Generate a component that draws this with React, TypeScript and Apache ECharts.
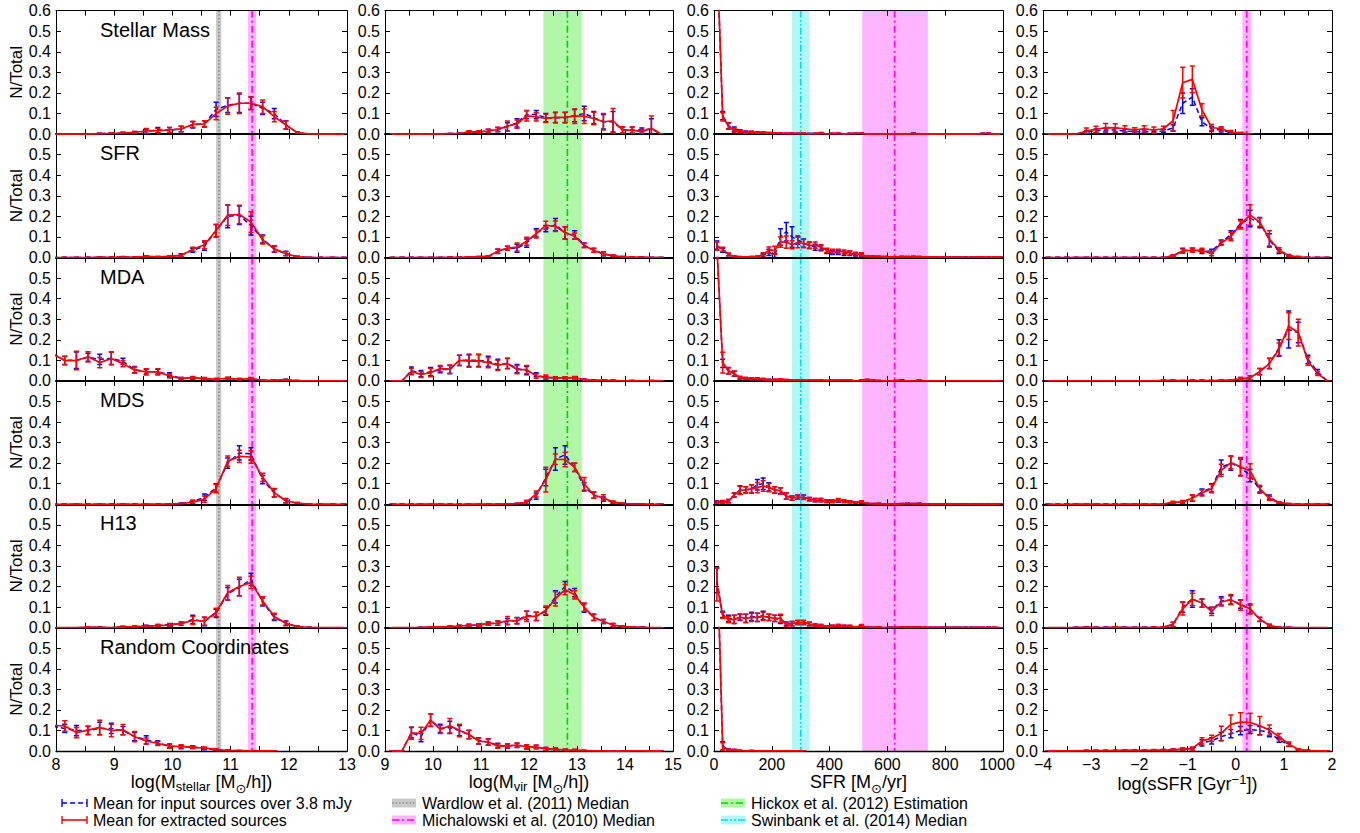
import { useEffect, useRef } from "react";
import * as echarts from "echarts";

const FONT = '"Liberation Sans", Arial, Helvetica, sans-serif';

// ---------- bin centres ----------
const massX = [7.95, 8.15, 8.35, 8.55, 8.75, 8.95, 9.15, 9.35, 9.55, 9.75, 9.95, 10.15, 10.35, 10.55, 10.75, 10.95, 11.15, 11.35, 11.55, 11.75, 11.95, 12.15, 12.35, 12.55, 12.75, 12.95];
const mvirX = [9.15, 9.35, 9.55, 9.75, 9.95, 10.15, 10.35, 10.55, 10.75, 10.95, 11.15, 11.35, 11.55, 11.75, 11.95, 12.15, 12.35, 12.55, 12.75, 12.95, 13.15, 13.35, 13.55, 13.75, 13.95, 14.15, 14.35, 14.55, 14.75];
const sfrX = [10, 30, 50, 70, 90, 110, 130, 150, 170, 190, 210, 230, 250, 270, 290, 310, 330, 350, 370, 390, 410, 430, 450, 470, 490, 510, 530, 550, 570, 590, 610, 630, 650, 670, 690, 710, 730, 750, 770, 790, 810, 830, 850, 870, 890, 910, 930, 950, 970, 990];
const ssfrX = [-3.9, -3.7, -3.5, -3.3, -3.1, -2.9, -2.7, -2.5, -2.3, -2.1, -1.9, -1.7, -1.5, -1.3, -1.1, -0.9, -0.7, -0.5, -0.3, -0.1, 0.1, 0.3, 0.5, 0.7, 0.9, 1.1, 1.3, 1.5, 1.7, 1.9];

const rowLabels = ["Stellar Mass", "SFR", "MDA", "MDS", "H13", "Random Coordinates"];

// ---------- column 1 : stellar mass ----------
const massSM_r = [0, 0, 0, 0, 0.002, 0.003, 0.005, 0.008, 0.015, 0.017, 0.02, 0.025, 0.048, 0.05, 0.1, 0.136, 0.15, 0.15, 0.133, 0.085, 0.044, 0.006, 0.001, 0, 0, 0];
const massSM_re = [0, 0, 0, 0, 0.002, 0.003, 0.004, 0.005, 0.012, 0.01, 0.012, 0.013, 0.015, 0.015, 0.03, 0.04, 0.05, 0.03, 0.033, 0.025, 0.02, 0.004, 0.001, 0, 0, 0];
const massSM_b = [0, 0, 0, 0, 0.002, 0.003, 0.005, 0.008, 0.014, 0.02, 0.02, 0.025, 0.045, 0.05, 0.12, 0.14, 0.15, 0.15, 0.125, 0.1, 0.045, 0.006, 0.001, 0, 0, 0];
const massSM_be = [0, 0, 0, 0, 0.002, 0.003, 0.004, 0.005, 0.01, 0.012, 0.012, 0.013, 0.015, 0.015, 0.035, 0.035, 0.045, 0.03, 0.03, 0.025, 0.02, 0.004, 0.001, 0, 0, 0];

const massSFR_r = [0, 0, 0, 0, 0.001, 0.001, 0.002, 0.001, 0.005, 0.003, 0.005, 0.01, 0.04, 0.062, 0.131, 0.206, 0.209, 0.172, 0.086, 0.042, 0.018, 0.003, 0, 0, 0, 0];
const massSFR_re = [0, 0, 0, 0, 0.001, 0.001, 0.002, 0.001, 0.003, 0.002, 0.003, 0.006, 0.01, 0.02, 0.03, 0.05, 0.045, 0.05, 0.02, 0.015, 0.01, 0.003, 0, 0, 0, 0];
const massSFR_b = [0, 0, 0, 0, 0.001, 0.001, 0.003, 0.001, 0.004, 0.003, 0.005, 0.012, 0.035, 0.055, 0.13, 0.2, 0.205, 0.155, 0.09, 0.04, 0.02, 0.003, 0, 0, 0, 0];
const massSFR_be = [0, 0, 0, 0, 0.001, 0.001, 0.002, 0.001, 0.003, 0.002, 0.003, 0.006, 0.01, 0.02, 0.03, 0.055, 0.045, 0.045, 0.02, 0.015, 0.01, 0.003, 0, 0, 0, 0];

const massMDA_r = [0.13, 0.099, 0.099, 0.117, 0.089, 0.109, 0.084, 0.052, 0.044, 0.044, 0.024, 0.011, 0.016, 0.011, 0.008, 0.013, 0.008, 0.011, 0.003, 0.003, 0.005, 0.001, 0, 0, 0, 0];
const massMDA_re = [0.02, 0.02, 0.045, 0.025, 0.025, 0.03, 0.015, 0.015, 0.015, 0.015, 0.01, 0.005, 0.006, 0.005, 0.004, 0.005, 0.004, 0.005, 0.002, 0.002, 0.003, 0.001, 0, 0, 0, 0];
const massMDA_b = [0.13, 0.1, 0.1, 0.115, 0.105, 0.11, 0.095, 0.055, 0.045, 0.045, 0.03, 0.012, 0.014, 0.01, 0.008, 0.012, 0.008, 0.01, 0.003, 0.004, 0.005, 0.001, 0, 0, 0, 0];
const massMDA_be = [0.02, 0.02, 0.04, 0.02, 0.025, 0.03, 0.015, 0.015, 0.012, 0.012, 0.01, 0.005, 0.006, 0.005, 0.004, 0.005, 0.004, 0.005, 0.002, 0.002, 0.003, 0.001, 0, 0, 0, 0];

const massMDS_r = [0, 0, 0, 0, 0, 0, 0, 0, 0, 0, 0.002, 0.003, 0.01, 0.025, 0.076, 0.21, 0.233, 0.23, 0.131, 0.057, 0.016, 0.005, 0.001, 0, 0, 0];
const massMDS_re = [0, 0, 0, 0, 0, 0, 0, 0, 0, 0, 0.001, 0.002, 0.008, 0.015, 0.02, 0.025, 0.03, 0.03, 0.02, 0.02, 0.01, 0.004, 0.001, 0, 0, 0];
const massMDS_b = [0, 0, 0, 0, 0, 0, 0, 0, 0, 0, 0.002, 0.004, 0.012, 0.035, 0.08, 0.2, 0.25, 0.245, 0.12, 0.055, 0.018, 0.005, 0.001, 0, 0, 0];
const massMDS_be = [0, 0, 0, 0, 0, 0, 0, 0, 0, 0, 0.001, 0.002, 0.008, 0.015, 0.02, 0.025, 0.035, 0.03, 0.02, 0.02, 0.01, 0.004, 0.001, 0, 0, 0];

const massH13_r = [0, 0, 0, 0.003, 0.002, 0, 0.004, 0.005, 0.007, 0.01, 0.013, 0.02, 0.035, 0.032, 0.075, 0.17, 0.2, 0.22, 0.13, 0.055, 0.02, 0.005, 0.001, 0, 0, 0];
const massH13_re = [0, 0, 0, 0.002, 0.002, 0, 0.003, 0.003, 0.004, 0.005, 0.006, 0.008, 0.02, 0.02, 0.02, 0.035, 0.045, 0.03, 0.02, 0.015, 0.01, 0.004, 0.001, 0, 0, 0];
const massH13_b = [0, 0, 0, 0.003, 0.002, 0, 0.004, 0.005, 0.008, 0.01, 0.015, 0.02, 0.04, 0.03, 0.07, 0.165, 0.195, 0.235, 0.125, 0.05, 0.022, 0.005, 0.001, 0, 0, 0];
const massH13_be = [0, 0, 0, 0.002, 0.002, 0, 0.003, 0.003, 0.004, 0.005, 0.006, 0.008, 0.02, 0.02, 0.02, 0.03, 0.04, 0.03, 0.02, 0.015, 0.01, 0.004, 0.001, 0, 0, 0];

const massRND_r = [0.125, 0.122, 0.09, 0.102, 0.115, 0.1, 0.104, 0.07, 0.049, 0.037, 0.024, 0.023, 0.018, 0.015, 0.008, 0.003, 0.002, 0.001, 0.001, 0.001];
const massRND_re = [0.02, 0.025, 0.025, 0.02, 0.035, 0.03, 0.025, 0.025, 0.015, 0.01, 0.01, 0.008, 0.006, 0.005, 0.004, 0.002, 0.001, 0.001, 0.001, 0.001];
const massRND_b = [0.12, 0.11, 0.1, 0.1, 0.11, 0.11, 0.1, 0.07, 0.055, 0.04, 0.025, 0.02, 0.02, 0.012, 0.006, 0.003, 0.002, 0.001, 0.001, 0.001];
const massRND_be = [0.02, 0.02, 0.025, 0.02, 0.03, 0.025, 0.02, 0.02, 0.02, 0.01, 0.01, 0.008, 0.006, 0.005, 0.004, 0.002, 0.001, 0.001, 0.001, 0.001];

// ---------- column 2 : virial mass ----------
const mvirSM_r = [0, 0, 0, 0, 0, 0.001, 0.002, 0.003, 0.011, 0.011, 0.015, 0.023, 0.039, 0.049, 0.089, 0.084, 0.076, 0.081, 0.081, 0.087, 0.087, 0.076, 0.06, 0.065, 0.019, 0.019, 0.012, 0.028, 0];
const mvirSM_re = [0, 0, 0, 0, 0, 0.001, 0.001, 0.002, 0.005, 0.005, 0.008, 0.01, 0.025, 0.02, 0.025, 0.02, 0.02, 0.025, 0.025, 0.035, 0.035, 0.03, 0.04, 0.06, 0.015, 0.015, 0.01, 0.06, 0];
const mvirSM_b = [0, 0, 0, 0, 0, 0.001, 0.002, 0.003, 0.01, 0.01, 0.015, 0.022, 0.035, 0.055, 0.095, 0.095, 0.08, 0.08, 0.08, 0.09, 0.1, 0.08, 0.06, 0.06, 0.02, 0.02, 0.02, 0.025, 0];
const mvirSM_be = [0, 0, 0, 0, 0, 0.001, 0.001, 0.002, 0.005, 0.005, 0.008, 0.01, 0.02, 0.02, 0.02, 0.02, 0.02, 0.025, 0.025, 0.03, 0.035, 0.03, 0.035, 0.05, 0.015, 0.015, 0.01, 0.05, 0];

const mvirSFR_r = [0, 0, 0, 0, 0, 0, 0.001, 0.001, 0.002, 0.003, 0.005, 0.031, 0.045, 0.05, 0.079, 0.115, 0.156, 0.152, 0.12, 0.104, 0.058, 0.034, 0.018, 0.008, 0.003, 0.002, 0.001, 0, 0];
const mvirSFR_re = [0, 0, 0, 0, 0, 0, 0.001, 0.001, 0.001, 0.002, 0.003, 0.01, 0.01, 0.02, 0.02, 0.02, 0.02, 0.025, 0.03, 0.015, 0.01, 0.01, 0.01, 0.004, 0.002, 0.001, 0.001, 0, 0];
const mvirSFR_b = [0, 0, 0, 0, 0, 0, 0.001, 0.001, 0.002, 0.003, 0.005, 0.03, 0.045, 0.045, 0.07, 0.12, 0.14, 0.16, 0.12, 0.11, 0.06, 0.035, 0.018, 0.008, 0.003, 0.002, 0.001, 0, 0];
const mvirSFR_be = [0, 0, 0, 0, 0, 0, 0.001, 0.001, 0.001, 0.002, 0.003, 0.01, 0.01, 0.02, 0.02, 0.02, 0.015, 0.03, 0.03, 0.02, 0.01, 0.01, 0.01, 0.004, 0.002, 0.001, 0.001, 0, 0];

const mvirMDA_r = [0, 0, 0.045, 0.031, 0.04, 0.06, 0.057, 0.1, 0.096, 0.097, 0.089, 0.076, 0.084, 0.055, 0.055, 0.023, 0.019, 0.015, 0.015, 0.016, 0.005, 0.002, 0.003, 0.002, 0, 0.001, 0, 0.001, 0];
const mvirMDA_re = [0, 0, 0.015, 0.015, 0.02, 0.015, 0.02, 0.025, 0.03, 0.03, 0.025, 0.025, 0.025, 0.02, 0.02, 0.01, 0.01, 0.005, 0.005, 0.005, 0.003, 0.002, 0.002, 0.002, 0, 0.001, 0, 0.001, 0];
const mvirMDA_b = [0, 0, 0.05, 0.035, 0.045, 0.055, 0.055, 0.1, 0.1, 0.1, 0.095, 0.08, 0.085, 0.06, 0.05, 0.03, 0.015, 0.015, 0.015, 0.015, 0.006, 0.003, 0.004, 0.002, 0, 0.001, 0, 0.001, 0];
const mvirMDA_be = [0, 0, 0.018, 0.015, 0.02, 0.015, 0.02, 0.025, 0.03, 0.03, 0.025, 0.025, 0.025, 0.02, 0.02, 0.01, 0.008, 0.005, 0.005, 0.005, 0.003, 0.002, 0.002, 0.002, 0, 0.001, 0, 0.001, 0];

const mvirMDS_r = [0, 0, 0, 0, 0, 0, 0, 0, 0, 0, 0, 0.001, 0.002, 0.003, 0.01, 0.05, 0.12, 0.219, 0.217, 0.18, 0.1, 0.044, 0.031, 0.011, 0.003, 0.002, 0.002, 0, 0];
const mvirMDS_re = [0, 0, 0, 0, 0, 0, 0, 0, 0, 0, 0, 0.001, 0.001, 0.002, 0.01, 0.015, 0.06, 0.025, 0.035, 0.02, 0.03, 0.015, 0.015, 0.005, 0.002, 0.001, 0.001, 0, 0];
const mvirMDS_b = [0, 0, 0, 0, 0, 0, 0, 0, 0, 0, 0, 0.001, 0.002, 0.003, 0.008, 0.04, 0.13, 0.22, 0.24, 0.18, 0.085, 0.045, 0.025, 0.01, 0.003, 0.002, 0.001, 0, 0];
const mvirMDS_be = [0, 0, 0, 0, 0, 0, 0, 0, 0, 0, 0, 0.001, 0.001, 0.002, 0.008, 0.015, 0.04, 0.055, 0.045, 0.02, 0.02, 0.015, 0.01, 0.005, 0.002, 0.001, 0.001, 0, 0];

const mvirH13_r = [0, 0, 0, 0.001, 0.003, 0.003, 0.005, 0.008, 0.012, 0.013, 0.02, 0.022, 0.035, 0.033, 0.055, 0.055, 0.085, 0.14, 0.185, 0.16, 0.1, 0.05, 0.03, 0.013, 0.005, 0.003, 0.002, 0, 0];
const mvirH13_re = [0, 0, 0, 0.001, 0.002, 0.002, 0.003, 0.004, 0.005, 0.006, 0.008, 0.01, 0.02, 0.015, 0.025, 0.02, 0.02, 0.035, 0.025, 0.02, 0.02, 0.015, 0.01, 0.008, 0.003, 0.002, 0.001, 0, 0];
const mvirH13_b = [0, 0, 0, 0.001, 0.003, 0.003, 0.005, 0.008, 0.012, 0.013, 0.02, 0.022, 0.03, 0.035, 0.06, 0.055, 0.08, 0.15, 0.2, 0.17, 0.095, 0.05, 0.03, 0.012, 0.005, 0.003, 0.002, 0, 0];
const mvirH13_be = [0, 0, 0, 0.001, 0.002, 0.002, 0.003, 0.004, 0.005, 0.006, 0.008, 0.01, 0.015, 0.015, 0.02, 0.02, 0.02, 0.03, 0.025, 0.02, 0.02, 0.015, 0.01, 0.008, 0.003, 0.002, 0.001, 0, 0];

const mvirRND_r = [0, 0, 0.0875, 0.086, 0.151, 0.105, 0.123, 0.1, 0.081, 0.049, 0.044, 0.024, 0.025, 0.029, 0.021, 0.021, 0.01, 0.01, 0.005, 0.005, 0.002, 0.001, 0.001, 0, 0, 0.001, 0.001, 0, 0];
const mvirRND_re = [0, 0, 0.03, 0.03, 0.03, 0.02, 0.035, 0.03, 0.02, 0.015, 0.015, 0.01, 0.01, 0.01, 0.01, 0.008, 0.008, 0.006, 0.004, 0.004, 0.002, 0.001, 0.001, 0, 0, 0.001, 0.001, 0, 0];
const mvirRND_b = [0, 0, 0.09, 0.07, 0.15, 0.11, 0.115, 0.1, 0.08, 0.05, 0.045, 0.028, 0.025, 0.028, 0.02, 0.02, 0.01, 0.008, 0.005, 0.004, 0.002, 0.001, 0.001, 0, 0, 0.001, 0.001, 0, 0];
const mvirRND_be = [0, 0, 0.025, 0.025, 0.03, 0.02, 0.03, 0.025, 0.02, 0.015, 0.015, 0.01, 0.01, 0.01, 0.01, 0.008, 0.008, 0.006, 0.004, 0.004, 0.002, 0.001, 0.001, 0, 0, 0.001, 0.001, 0, 0];

// ---------- column 3 : SFR ----------
const sfrSM_r = [0.9, 0.084, 0.039, 0.019, 0.012, 0.008, 0.01, 0.007, 0.008, 0.005, 0.004, 0.003, 0.002, 0.003, 0.002, 0.003, 0.001, 0.002, 0.003, 0.001, 0.002, 0.003, 0, 0.002, 0.003, 0.004, 0, 0, 0, 0, 0, 0, 0, 0, 0.002, 0, 0, 0, 0, 0, 0, 0, 0, 0, 0, 0, 0.002, 0.002, 0, 0];
const sfrSM_re = [0.05, 0.02, 0.015, 0.01, 0.006, 0.005, 0.005, 0.004, 0.004, 0.003, 0.003, 0.002, 0.002, 0.002, 0.002, 0.002, 0.001, 0.002, 0.002, 0.001, 0.002, 0.002, 0, 0.002, 0.002, 0.003, 0, 0, 0, 0, 0, 0, 0, 0, 0.002, 0, 0, 0, 0, 0, 0, 0, 0, 0, 0, 0, 0.002, 0.002, 0, 0];
const sfrSM_b = [0.9, 0.09, 0.04, 0.025, 0.015, 0.01, 0.008, 0.007, 0.006, 0.005, 0.004, 0.003, 0.002, 0.003, 0.002, 0.002, 0.002, 0.002, 0.005, 0.001, 0.002, 0.002, 0, 0.002, 0.002, 0.003, 0, 0, 0, 0, 0, 0, 0, 0, 0.003, 0, 0, 0, 0, 0, 0, 0, 0, 0, 0, 0, 0.002, 0.003, 0, 0];
const sfrSM_be = [0.05, 0.02, 0.015, 0.01, 0.006, 0.005, 0.004, 0.004, 0.003, 0.003, 0.003, 0.002, 0.002, 0.002, 0.002, 0.002, 0.002, 0.002, 0.003, 0.001, 0.002, 0.002, 0, 0.002, 0.002, 0.002, 0, 0, 0, 0, 0, 0, 0, 0, 0.002, 0, 0, 0, 0, 0, 0, 0, 0, 0, 0, 0, 0.002, 0.002, 0, 0];

const sfrSFR_r = [0.055, 0.04, 0.015, 0.005, 0.003, 0.002, 0.003, 0.004, 0.015, 0.036, 0.035, 0.075, 0.075, 0.062, 0.073, 0.068, 0.058, 0.06, 0.05, 0.035, 0.03, 0.03, 0.027, 0.022, 0.018, 0.015, 0.005, 0.005, 0.004, 0.003, 0.002, 0.002, 0.004, 0.003, 0.004, 0.003, 0.002, 0.002, 0.001, 0.001, 0.001, 0.001, 0.001, 0.001, 0.001, 0.001, 0.001, 0.001, 0.001, 0.001];
const sfrSFR_re = [0.02, 0.01, 0.006, 0.003, 0.002, 0.002, 0.002, 0.003, 0.008, 0.015, 0.02, 0.025, 0.03, 0.02, 0.025, 0.02, 0.015, 0.015, 0.012, 0.01, 0.01, 0.01, 0.01, 0.01, 0.008, 0.008, 0.003, 0.003, 0.002, 0.002, 0.002, 0.002, 0.002, 0.002, 0.002, 0.002, 0.002, 0.002, 0.002, 0.002, 0.001, 0.001, 0.001, 0.001, 0.001, 0.001, 0.001, 0.001, 0.001, 0.001];
const sfrSFR_b = [0.06, 0.035, 0.015, 0.004, 0.002, 0.002, 0.003, 0.003, 0.01, 0.025, 0.01, 0.1, 0.125, 0.1, 0.085, 0.07, 0.06, 0.05, 0.045, 0.03, 0.025, 0.025, 0.02, 0.02, 0.015, 0.012, 0.004, 0.004, 0.004, 0.003, 0.002, 0.002, 0.003, 0.003, 0.003, 0.003, 0.002, 0.002, 0.001, 0.001, 0.001, 0.001, 0.001, 0.001, 0.001, 0.001, 0.001, 0.001, 0.001, 0.001];
const sfrSFR_be = [0.02, 0.01, 0.006, 0.003, 0.002, 0.002, 0.002, 0.003, 0.008, 0.015, 0.01, 0.04, 0.045, 0.05, 0.02, 0.02, 0.015, 0.015, 0.012, 0.01, 0.01, 0.01, 0.01, 0.01, 0.008, 0.008, 0.003, 0.003, 0.002, 0.002, 0.002, 0.002, 0.002, 0.002, 0.002, 0.002, 0.002, 0.002, 0.002, 0.002, 0.001, 0.001, 0.001, 0.001, 0.001, 0.001, 0.001, 0.001, 0.001, 0.001];

const sfrMDA_r = [0.65, 0.089, 0.049, 0.036, 0.015, 0.012, 0.01, 0.01, 0.008, 0.005, 0.005, 0.007, 0.004, 0.002, 0.002, 0.003, 0.003, 0.002, 0.004, 0.001, 0.002, 0.003, 0.004, 0.003, 0, 0.002, 0.005, 0.002, 0.001, 0, 0, 0.001, 0.001, 0, 0, 0.002, 0, 0, 0, 0, 0, 0, 0, 0, 0, 0, 0, 0, 0, 0];
const sfrMDA_re = [0.05, 0.05, 0.015, 0.012, 0.006, 0.005, 0.005, 0.005, 0.004, 0.003, 0.003, 0.004, 0.003, 0.002, 0.002, 0.002, 0.002, 0.002, 0.002, 0.001, 0.002, 0.002, 0.002, 0.002, 0, 0.002, 0.003, 0.002, 0.001, 0, 0, 0.001, 0.001, 0, 0, 0.002, 0, 0, 0, 0, 0, 0, 0, 0, 0, 0, 0, 0, 0, 0];
const sfrMDA_b = [0.65, 0.085, 0.05, 0.035, 0.015, 0.012, 0.01, 0.009, 0.008, 0.005, 0.005, 0.006, 0.004, 0.002, 0.002, 0.003, 0.003, 0.002, 0.003, 0.001, 0.002, 0.003, 0.003, 0.003, 0, 0.002, 0.004, 0.002, 0.001, 0, 0, 0.001, 0.003, 0, 0, 0.002, 0, 0, 0, 0, 0, 0, 0, 0, 0, 0, 0, 0, 0, 0];
const sfrMDA_be = [0.05, 0.02, 0.015, 0.012, 0.006, 0.005, 0.005, 0.005, 0.004, 0.003, 0.003, 0.004, 0.003, 0.002, 0.002, 0.002, 0.002, 0.002, 0.002, 0.001, 0.002, 0.002, 0.002, 0.002, 0, 0.002, 0.003, 0.002, 0.001, 0, 0, 0.001, 0.002, 0, 0, 0.002, 0, 0, 0, 0, 0, 0, 0, 0, 0, 0, 0, 0, 0, 0];

const sfrMDS_r = [0.01, 0.011, 0.015, 0.045, 0.068, 0.07, 0.075, 0.081, 0.089, 0.081, 0.07, 0.065, 0.04, 0.03, 0.035, 0.033, 0.025, 0.02, 0.02, 0.015, 0.015, 0.02, 0.015, 0.012, 0.008, 0.012, 0.003, 0.002, 0.003, 0.001, 0.001, 0.001, 0.002, 0.004, 0.002, 0.003, 0.001, 0.001, 0.001, 0.001, 0.001, 0.001, 0.001, 0.001, 0.001, 0.001, 0.001, 0.001, 0.001, 0];
const sfrMDS_re = [0.005, 0.006, 0.008, 0.01, 0.02, 0.015, 0.02, 0.025, 0.025, 0.02, 0.015, 0.015, 0.015, 0.01, 0.01, 0.01, 0.008, 0.008, 0.008, 0.006, 0.006, 0.008, 0.006, 0.005, 0.004, 0.005, 0.002, 0.002, 0.002, 0.001, 0.001, 0.001, 0.002, 0.002, 0.002, 0.002, 0.001, 0.001, 0.001, 0.001, 0.001, 0.001, 0.001, 0.001, 0.001, 0.001, 0.001, 0.001, 0.001, 0];
const sfrMDS_b = [0.012, 0.012, 0.015, 0.045, 0.07, 0.07, 0.075, 0.095, 0.1, 0.085, 0.07, 0.065, 0.04, 0.03, 0.035, 0.035, 0.025, 0.02, 0.02, 0.015, 0.015, 0.018, 0.015, 0.012, 0.008, 0.01, 0.003, 0.002, 0.003, 0.001, 0.001, 0.001, 0.002, 0.003, 0.002, 0.003, 0.001, 0.001, 0.001, 0.001, 0.001, 0.001, 0.001, 0.001, 0.001, 0.001, 0.001, 0.001, 0.001, 0];
const sfrMDS_be = [0.005, 0.006, 0.008, 0.01, 0.02, 0.015, 0.02, 0.025, 0.028, 0.02, 0.015, 0.015, 0.015, 0.01, 0.01, 0.01, 0.008, 0.008, 0.008, 0.006, 0.006, 0.008, 0.006, 0.005, 0.004, 0.005, 0.002, 0.002, 0.002, 0.001, 0.001, 0.001, 0.002, 0.002, 0.002, 0.002, 0.001, 0.001, 0.001, 0.001, 0.001, 0.001, 0.001, 0.001, 0.001, 0.001, 0.001, 0.001, 0.001, 0];

const sfrH13_r = [0.21, 0.06, 0.039, 0.04, 0.052, 0.045, 0.05, 0.05, 0.055, 0.05, 0.045, 0.045, 0.015, 0.02, 0.025, 0.025, 0.018, 0.012, 0.01, 0.005, 0.008, 0.01, 0.008, 0.008, 0.003, 0.01, 0.002, 0.001, 0.002, 0, 0.001, 0.001, 0.002, 0.003, 0.002, 0.002, 0.001, 0.001, 0.001, 0.001, 0.001, 0.001, 0.001, 0.001, 0.001, 0.001, 0.001, 0.001, 0.001, 0];
const sfrH13_re = [0.08, 0.015, 0.015, 0.02, 0.015, 0.02, 0.02, 0.02, 0.02, 0.015, 0.015, 0.02, 0.008, 0.01, 0.01, 0.01, 0.008, 0.006, 0.005, 0.003, 0.004, 0.005, 0.004, 0.004, 0.002, 0.005, 0.001, 0.001, 0.001, 0, 0.001, 0.001, 0.001, 0.001, 0.001, 0.001, 0.001, 0.001, 0.001, 0.001, 0.001, 0.001, 0.001, 0.001, 0.001, 0.001, 0.001, 0.001, 0.001, 0];
const sfrH13_b = [0.23, 0.065, 0.045, 0.04, 0.05, 0.045, 0.055, 0.05, 0.06, 0.05, 0.045, 0.04, 0.02, 0.02, 0.025, 0.025, 0.018, 0.012, 0.01, 0.005, 0.008, 0.01, 0.008, 0.007, 0.003, 0.008, 0.002, 0.001, 0.002, 0, 0.001, 0.001, 0.002, 0.003, 0.002, 0.002, 0.001, 0.001, 0.001, 0.001, 0.001, 0.001, 0.001, 0.001, 0.001, 0.001, 0.001, 0.001, 0.001, 0];
const sfrH13_be = [0.06, 0.015, 0.015, 0.02, 0.015, 0.02, 0.02, 0.02, 0.02, 0.015, 0.015, 0.02, 0.008, 0.01, 0.01, 0.01, 0.008, 0.006, 0.005, 0.003, 0.004, 0.005, 0.004, 0.004, 0.002, 0.005, 0.001, 0.001, 0.001, 0, 0.001, 0.001, 0.001, 0.001, 0.001, 0.001, 0.001, 0.001, 0.001, 0.001, 0.001, 0.001, 0.001, 0.001, 0.001, 0.001, 0.001, 0.001, 0.001, 0];

const sfrRND_r = [1.0, 0.02, 0.005, 0.005, 0.002, 0.001, 0.002, 0.001, 0.001, 0.001, 0.001, 0.001, 0.001, 0.001, 0.001, 0.001];
const sfrRND_re = [0.05, 0.02, 0.004, 0.004, 0.002, 0.001, 0.001, 0.001, 0.001, 0.001, 0.001, 0.001, 0.001, 0.001, 0.001, 0.001];
const sfrRND_b = [1.0, 0.025, 0.006, 0.004, 0.002, 0.001, 0.002, 0.001, 0.001, 0.001, 0.001, 0.001, 0.001, 0.001, 0.001, 0.001];
const sfrRND_be = [0.05, 0.02, 0.004, 0.004, 0.002, 0.001, 0.001, 0.001, 0.001, 0.001, 0.001, 0.001, 0.001, 0.001, 0.001, 0.001];

// ---------- column 4 : sSFR ----------
const ssfrSM_r = [0, 0, 0, 0.001, 0.015, 0.023, 0.031, 0.03, 0.026, 0.021, 0.025, 0.02, 0.026, 0.065, 0.25, 0.266, 0.118, 0.032, 0.026, 0.01, 0.005, 0.001];
const ssfrSM_re = [0, 0, 0, 0.001, 0.015, 0.015, 0.02, 0.02, 0.015, 0.01, 0.015, 0.015, 0.012, 0.05, 0.075, 0.065, 0.03, 0.015, 0.01, 0.008, 0.004, 0.001];
const ssfrSM_b = [0, 0, 0, 0.001, 0.01, 0.015, 0.02, 0.02, 0.015, 0.012, 0.012, 0.012, 0.015, 0.03, 0.15, 0.18, 0.06, 0.025, 0.02, 0.005, 0.002, 0.001];
const ssfrSM_be = [0, 0, 0, 0.001, 0.008, 0.01, 0.01, 0.01, 0.01, 0.008, 0.008, 0.008, 0.008, 0.015, 0.05, 0.04, 0.02, 0.012, 0.01, 0.005, 0.002, 0.001];

const ssfrSFR_r = [0, 0, 0, 0, 0, 0, 0, 0, 0, 0, 0, 0, 0, 0.008, 0.031, 0.036, 0.035, 0.019, 0.07, 0.102, 0.159, 0.207, 0.172, 0.09, 0.037, 0.008, 0.003, 0, 0, 0];
const ssfrSFR_re = [0, 0, 0, 0, 0, 0, 0, 0, 0, 0, 0, 0, 0, 0.004, 0.01, 0.01, 0.01, 0.01, 0.01, 0.02, 0.02, 0.05, 0.02, 0.04, 0.01, 0.004, 0.002, 0, 0, 0];
const ssfrSFR_b = [0, 0, 0, 0, 0, 0, 0, 0, 0, 0, 0, 0, 0, 0.008, 0.035, 0.035, 0.03, 0.03, 0.075, 0.11, 0.165, 0.19, 0.17, 0.085, 0.03, 0.01, 0.003, 0, 0, 0];
const ssfrSFR_be = [0, 0, 0, 0, 0, 0, 0, 0, 0, 0, 0, 0, 0, 0.004, 0.01, 0.01, 0.01, 0.01, 0.01, 0.02, 0.02, 0.04, 0.025, 0.03, 0.01, 0.005, 0.002, 0, 0, 0];

const ssfrMDA_r = [0, 0, 0, 0, 0, 0, 0, 0, 0, 0, 0, 0, 0.003, 0.002, 0.001, 0.002, 0.002, 0.001, 0.002, 0.004, 0.01, 0.015, 0.045, 0.084, 0.154, 0.266, 0.235, 0.096, 0.036, 0];
const ssfrMDA_re = [0, 0, 0, 0, 0, 0, 0, 0, 0, 0, 0, 0, 0.002, 0.002, 0.001, 0.002, 0.002, 0.001, 0.002, 0.002, 0.006, 0.01, 0.015, 0.025, 0.03, 0.065, 0.065, 0.02, 0.01, 0];
const ssfrMDA_b = [0, 0, 0, 0, 0, 0, 0, 0, 0, 0, 0, 0, 0.002, 0.002, 0.001, 0.002, 0.002, 0.001, 0.002, 0.004, 0.01, 0.015, 0.045, 0.085, 0.16, 0.25, 0.235, 0.105, 0.045, 0];
const ssfrMDA_be = [0, 0, 0, 0, 0, 0, 0, 0, 0, 0, 0, 0, 0.002, 0.002, 0.001, 0.002, 0.002, 0.001, 0.002, 0.002, 0.006, 0.01, 0.015, 0.025, 0.04, 0.09, 0.05, 0.02, 0.01, 0];

const ssfrMDS_r = [0, 0, 0, 0, 0, 0, 0, 0, 0, 0, 0, 0.001, 0.002, 0.01, 0.011, 0.031, 0.055, 0.076, 0.165, 0.203, 0.182, 0.162, 0.076, 0.028, 0.008, 0.002, 0.001, 0, 0, 0];
const ssfrMDS_re = [0, 0, 0, 0, 0, 0, 0, 0, 0, 0, 0, 0.001, 0.001, 0.005, 0.006, 0.015, 0.015, 0.02, 0.03, 0.03, 0.045, 0.035, 0.015, 0.01, 0.004, 0.002, 0.001, 0, 0, 0];
const ssfrMDS_b = [0, 0, 0, 0, 0, 0, 0, 0, 0, 0, 0, 0.001, 0.002, 0.008, 0.012, 0.03, 0.06, 0.08, 0.18, 0.2, 0.18, 0.14, 0.07, 0.035, 0.008, 0.002, 0.001, 0, 0, 0];
const ssfrMDS_be = [0, 0, 0, 0, 0, 0, 0, 0, 0, 0, 0, 0.001, 0.001, 0.005, 0.006, 0.015, 0.015, 0.02, 0.035, 0.035, 0.04, 0.03, 0.015, 0.01, 0.004, 0.002, 0.001, 0, 0, 0];

const ssfrH13_r = [0, 0, 0, 0.001, 0.002, 0.001, 0.001, 0.003, 0.001, 0.001, 0.001, 0.002, 0.003, 0.016, 0.092, 0.138, 0.12, 0.079, 0.125, 0.136, 0.11, 0.092, 0.041, 0.011, 0.002, 0.001, 0, 0, 0, 0];
const ssfrH13_re = [0, 0, 0, 0.001, 0.001, 0.001, 0.001, 0.002, 0.001, 0.001, 0.001, 0.001, 0.002, 0.01, 0.03, 0.03, 0.02, 0.02, 0.02, 0.025, 0.025, 0.025, 0.01, 0.005, 0.002, 0.001, 0, 0, 0, 0];
const ssfrH13_b = [0, 0, 0, 0.001, 0.002, 0.001, 0.001, 0.003, 0.001, 0.001, 0.001, 0.002, 0.003, 0.015, 0.1, 0.14, 0.12, 0.085, 0.13, 0.135, 0.115, 0.09, 0.04, 0.012, 0.002, 0.001, 0, 0, 0, 0];
const ssfrH13_be = [0, 0, 0, 0.001, 0.001, 0.001, 0.001, 0.002, 0.001, 0.001, 0.001, 0.001, 0.002, 0.01, 0.025, 0.04, 0.02, 0.015, 0.02, 0.02, 0.02, 0.02, 0.01, 0.005, 0.002, 0.001, 0, 0, 0, 0];

const ssfrRND_r = [0, 0.001, 0.001, 0.001, 0.002, 0.003, 0.002, 0.002, 0.004, 0.004, 0.003, 0.005, 0.005, 0.006, 0.01, 0.012, 0.05, 0.062, 0.086, 0.13, 0.141, 0.139, 0.123, 0.102, 0.07, 0.034, 0.008, 0.002, 0.001, 0];
const ssfrRND_re = [0, 0.001, 0.001, 0.001, 0.002, 0.002, 0.002, 0.002, 0.003, 0.003, 0.002, 0.003, 0.003, 0.004, 0.006, 0.008, 0.015, 0.015, 0.035, 0.045, 0.045, 0.045, 0.045, 0.025, 0.015, 0.01, 0.004, 0.002, 0.001, 0];
const ssfrRND_b = [0, 0.001, 0.001, 0.001, 0.002, 0.002, 0.002, 0.002, 0.003, 0.003, 0.003, 0.004, 0.005, 0.006, 0.008, 0.01, 0.04, 0.05, 0.07, 0.085, 0.1, 0.105, 0.1, 0.09, 0.055, 0.03, 0.005, 0.002, 0.001, 0];
const ssfrRND_be = [0, 0.001, 0.001, 0.001, 0.002, 0.002, 0.002, 0.002, 0.003, 0.003, 0.002, 0.003, 0.003, 0.004, 0.005, 0.006, 0.015, 0.015, 0.02, 0.02, 0.02, 0.02, 0.02, 0.02, 0.012, 0.008, 0.004, 0.002, 0.001, 0];

// ---------- literature bands: [low, high, median, kind] ----------
const bandKinds = [
  { fill: "#cacaca", line: "#8a8a8a", dash: [1.5, 2] }, // Wardlow
  { fill: "#ffb4ff", line: "#ff00ff", dash: [7, 3, 2, 3] }, // Michalowski
  { fill: "#b0f8a8", line: "#00d400", dash: [7, 3, 2, 3] }, // Hickox
  { fill: "#b0f8f8", line: "#00dede", dash: [7, 2, 2, 2, 2, 2] }, // Swinbank
];
const massBands = [[10.75, 10.84, 10.8, 0], [11.3, 11.44, 11.37, 1]];
const mvirBands = [[12.3, 13.1, 12.8, 2]];
const sfrBands = [[270, 330, 300, 3], [513, 740, 625, 1]];
const ssfrBands = [[0.14, 0.33, 0.23, 1]];

const colNames = [
  "log(M{s|stellar} [M{o|⊙}/h])",
  "log(M{s|vir} [M{o|⊙}/h])",
  "SFR [M{o|⊙}/yr]",
  "log(sSFR [Gyr{p|−1}])",
];

const columns = [
  {
    x: massX, min: 8, max: 13, tick: 0.5, bands: massBands,
    panels: [
      [massSM_r, massSM_re, massSM_b, massSM_be],
      [massSFR_r, massSFR_re, massSFR_b, massSFR_be],
      [massMDA_r, massMDA_re, massMDA_b, massMDA_be],
      [massMDS_r, massMDS_re, massMDS_b, massMDS_be],
      [massH13_r, massH13_re, massH13_b, massH13_be],
      [massRND_r, massRND_re, massRND_b, massRND_be],
    ],
  },
  {
    x: mvirX, min: 9, max: 15, tick: 0.5, bands: mvirBands,
    panels: [
      [mvirSM_r, mvirSM_re, mvirSM_b, mvirSM_be],
      [mvirSFR_r, mvirSFR_re, mvirSFR_b, mvirSFR_be],
      [mvirMDA_r, mvirMDA_re, mvirMDA_b, mvirMDA_be],
      [mvirMDS_r, mvirMDS_re, mvirMDS_b, mvirMDS_be],
      [mvirH13_r, mvirH13_re, mvirH13_b, mvirH13_be],
      [mvirRND_r, mvirRND_re, mvirRND_b, mvirRND_be],
    ],
  },
  {
    x: sfrX, min: 0, max: 1000, tick: 200, bands: sfrBands,
    panels: [
      [sfrSM_r, sfrSM_re, sfrSM_b, sfrSM_be],
      [sfrSFR_r, sfrSFR_re, sfrSFR_b, sfrSFR_be],
      [sfrMDA_r, sfrMDA_re, sfrMDA_b, sfrMDA_be],
      [sfrMDS_r, sfrMDS_re, sfrMDS_b, sfrMDS_be],
      [sfrH13_r, sfrH13_re, sfrH13_b, sfrH13_be],
      [sfrRND_r, sfrRND_re, sfrRND_b, sfrRND_be],
    ],
  },
  {
    x: ssfrX, min: -4, max: 2, tick: 0.5, bands: ssfrBands,
    panels: [
      [ssfrSM_r, ssfrSM_re, ssfrSM_b, ssfrSM_be],
      [ssfrSFR_r, ssfrSFR_re, ssfrSFR_b, ssfrSFR_be],
      [ssfrMDA_r, ssfrMDA_re, ssfrMDA_b, ssfrMDA_be],
      [ssfrMDS_r, ssfrMDS_re, ssfrMDS_b, ssfrMDS_be],
      [ssfrH13_r, ssfrH13_re, ssfrH13_b, ssfrH13_be],
      [ssfrRND_r, ssfrRND_re, ssfrRND_b, ssfrRND_be],
    ],
  },
];

// ---------- layout ----------
const GL = [56, 385, 714, 1043];
const GW = [291, 288, 289, 289];
const GT0 = 10.7;
const GH = 123.4;
const RED = "#ff0000";
const BLUE = "#0000ff";
const TICK_FONT = 16;

function errRender(color: string) {
  return (_params: any, api: any) => {
    const x = api.value(0);
    const y = api.value(1);
    const e = api.value(2);
    const t = api.coord([x, y + e]);
    const b = api.coord([x, y - e]);
    const w = 2.5;
    const st = { stroke: color, lineWidth: 1.5 };
    return {
      type: "group",
      children: [
        { type: "line", shape: { x1: t[0], y1: t[1], x2: b[0], y2: b[1] }, style: st },
        { type: "line", shape: { x1: t[0] - w, y1: t[1], x2: t[0] + w, y2: t[1] }, style: st },
        { type: "line", shape: { x1: b[0] - w, y1: b[1], x2: b[0] + w, y2: b[1] }, style: st },
      ],
    };
  };
}

function bandRender(_params: any, api: any) {
  const lo = api.value(0);
  const hi = api.value(1);
  const mid = api.value(2);
  const k = api.value(3);
  const p1 = api.coord([lo, 0.6]);
  const p2 = api.coord([hi, 0]);
  const pm = api.coord([mid, 0]);
  const s = bandKinds[k];
  return {
    type: "group",
    children: [
      { type: "rect", shape: { x: p1[0], y: p1[1], width: p2[0] - p1[0], height: p2[1] - p1[1] }, style: { fill: s.fill } },
      { type: "line", shape: { x1: pm[0], y1: p1[1], x2: pm[0], y2: p2[1] }, style: { stroke: s.line, lineWidth: 1.6, lineDash: s.dash } },
    ],
  };
}

function xLabel(c: number) {
  return (v: number) => {
    if (Math.abs(v - Math.round(v)) > 1e-6) return "";
    const s = String(Math.round(v)).replace("-", "−");
    // last SFR label sits next to the neighbouring panel's "0.0": nudge it left a little
    if (c === 2 && Math.round(v) === 1000) return "{e|" + s + "}";
    return s;
  };
}

function buildOption() {
  const grid: any[] = [];
  const xAxis: any[] = [];
  const yAxis: any[] = [];
  const series: any[] = [];
  const graphic: any[] = [];

  const tickStyle = { show: true, inside: true, length: 5, lineStyle: { color: "#000", width: 1 } };

  columns.forEach((col, c) => {
    col.panels.forEach((p, r) => {
      const gi = grid.length;
      const top = GT0 + r * GH;
      grid.push({ left: GL[c], top, width: GW[c], height: GH, show: false });
      const xb = xAxis.length;
      const isBottom = r === 5;
      xAxis.push({
        type: "value", gridIndex: gi, min: col.min, max: col.max, interval: col.tick, position: "bottom", z: 3,
        axisLine: { show: true, onZero: false, lineStyle: { color: "#000", width: isBottom ? 1.3 : 2 } },
        axisTick: tickStyle,
        splitLine: { show: false },
        axisLabel: {
          show: isBottom, color: "#000", fontSize: TICK_FONT, fontFamily: FONT, margin: 5,
          formatter: xLabel(c),
          rich: { e: { fontSize: TICK_FONT, fontFamily: FONT, color: "#000", padding: [0, 12, 0, 0] } },
        },
        name: isBottom ? colNames[c] : "",
        nameLocation: "middle",
        nameGap: 15,
        nameTextStyle: {
          color: "#000", fontSize: 18, fontFamily: FONT,
          rich: {
            s: { fontSize: 13, fontFamily: FONT, color: "#000", padding: [9, 0, 0, 0] },
            o: { fontSize: 13, fontFamily: "DejaVu Sans", color: "#000", padding: [12, 0, 0, 0] },
            p: { fontSize: 13, fontFamily: FONT, color: "#000", padding: [0, 0, 9, 0] },
          },
        },
      });
      xAxis.push({
        type: "value", gridIndex: gi, min: col.min, max: col.max, interval: col.tick, position: "top", z: 3,
        axisLine: { show: true, onZero: false, lineStyle: { color: "#000", width: 1 } },
        axisTick: tickStyle,
        splitLine: { show: false },
        axisLabel: { show: false },
      });
      const yl = yAxis.length;
      yAxis.push({
        type: "value", gridIndex: gi, min: 0, max: 0.6, interval: 0.1, position: "left", z: 3,
        axisLine: { show: true, onZero: false, lineStyle: { color: "#000", width: 1 } },
        axisTick: tickStyle,
        splitLine: { show: false },
        axisLabel: {
          color: "#000", fontSize: TICK_FONT, fontFamily: FONT, margin: 5,
          formatter: (v: number) => (r > 0 && v > 0.55 ? "" : v.toFixed(1)),
        },
        name: c === 0 ? "N/Total" : "",
        nameLocation: "middle",
        nameGap: 31,
        nameTextStyle: { color: "#000", fontSize: 17, fontFamily: FONT },
      });
      yAxis.push({
        type: "value", gridIndex: gi, min: 0, max: 0.6, interval: 0.1, position: "right", z: 3,
        axisLine: { show: true, onZero: false, lineStyle: { color: "#000", width: 1 } },
        axisTick: tickStyle,
        splitLine: { show: false },
        axisLabel: { show: false },
      });

      const [red, redErr, blue, blueErr] = p;
      series.push({
        type: "custom", xAxisIndex: xb, yAxisIndex: yl, z: 1, silent: true, clip: true,
        data: col.bands, renderItem: bandRender,
      });
      series.push({
        type: "line", xAxisIndex: xb, yAxisIndex: yl, z: 4, silent: true, clip: true, symbol: "none",
        data: blue.map((v, i) => [col.x[i], v]),
        lineStyle: { color: BLUE, width: 1.5, type: [5, 3] },
      });
      series.push({
        type: "custom", xAxisIndex: xb, yAxisIndex: yl, z: 4, silent: true, clip: true,
        data: blue.map((v, i) => [col.x[i], v, blueErr[i]]), renderItem: errRender(BLUE),
      });
      series.push({
        type: "line", xAxisIndex: xb, yAxisIndex: yl, z: 5, silent: true, clip: true, symbol: "none",
        data: red.map((v, i) => [col.x[i], v]),
        lineStyle: { color: RED, width: 1.7 },
      });
      series.push({
        type: "custom", xAxisIndex: xb, yAxisIndex: yl, z: 5, silent: true, clip: true,
        data: red.map((v, i) => [col.x[i], v, redErr[i]]), renderItem: errRender(RED),
      });

      if (c === 0) {
        graphic.push({
          type: "text", x: 100, y: top + 19, z: 10,
          style: { text: rowLabels[r], fill: "#000", fontSize: 20, fontFamily: FONT, verticalAlign: "middle" },
        });
      }
    });
  });

  // ---------- legend ----------
  const legY = [803, 820];
  const capLine = (x: number, y: number, color: string) => ({
    type: "line", shape: { x1: x, y1: y - 4, x2: x, y2: y + 4 }, style: { stroke: color, lineWidth: 1.4 },
  });
  const legText = (x: number, y: number, text: string) => ({
    type: "text", x, y, style: { text, fill: "#000", fontSize: 16, fontFamily: FONT, verticalAlign: "middle" },
  });
  graphic.push({ type: "line", shape: { x1: 62, y1: legY[0], x2: 87, y2: legY[0] }, style: { stroke: BLUE, lineWidth: 1.5, lineDash: [5, 3] } });
  graphic.push(capLine(62, legY[0], BLUE), capLine(87, legY[0], BLUE));
  graphic.push(legText(93, legY[0], "Mean for input sources over 3.8 mJy"));
  graphic.push({ type: "line", shape: { x1: 62, y1: legY[1], x2: 87, y2: legY[1] }, style: { stroke: RED, lineWidth: 1.6 } });
  graphic.push(capLine(62, legY[1], RED), capLine(87, legY[1], RED));
  graphic.push(legText(93, legY[1], "Mean for extracted sources"));
  const bandItem = (x: number, y: number, k: number, text: string) => {
    const s = bandKinds[k];
    graphic.push({ type: "rect", shape: { x, y: y - 4.5, width: 24, height: 9 }, style: { fill: s.fill } });
    graphic.push({ type: "line", shape: { x1: x, y1: y, x2: x + 24, y2: y }, style: { stroke: s.line, lineWidth: 1.6, lineDash: s.dash } });
    graphic.push(legText(x + 30, y, text));
  };
  bandItem(392, legY[0], 0, "Wardlow et al. (2011) Median");
  bandItem(392, legY[1], 1, "Michalowski et al. (2010) Median");
  bandItem(721, legY[0], 2, "Hickox et al. (2012) Estimation");
  bandItem(721, legY[1], 3, "Swinbank et al. (2014) Median");

  return {
    animation: false,
    backgroundColor: "#ffffff",
    textStyle: { fontFamily: FONT },
    grid,
    xAxis,
    yAxis,
    series,
    graphic,
  };
}

export default function App() {
  const ref = useRef<HTMLDivElement>(null);
  useEffect(() => {
    if (!ref.current) return;
    const chart = echarts.init(ref.current, null, { renderer: "svg" });
    chart.setOption(buildOption() as any);
    return () => chart.dispose();
  }, []);
  return (
    <div
      ref={ref}
      style={{ position: "fixed", left: 0, top: 0, width: 1360, height: 833, background: "#fff" }}
    />
  );
}
